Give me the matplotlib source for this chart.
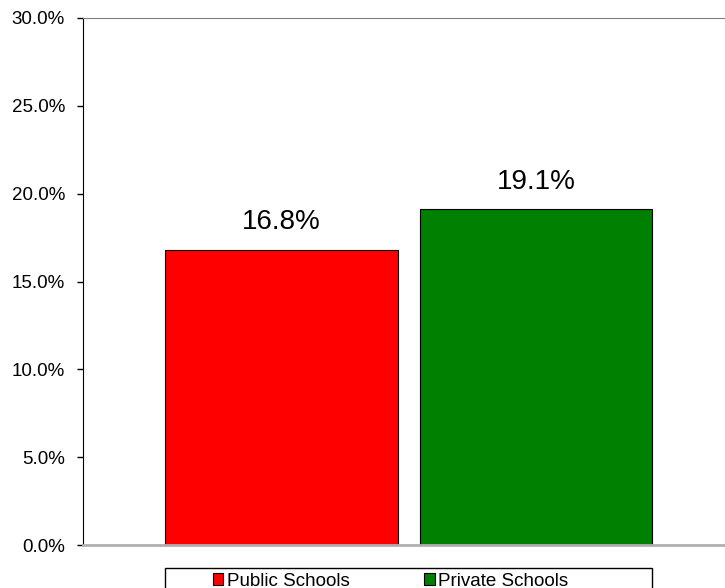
import matplotlib.pyplot as plt
import numpy as np
from matplotlib.ticker import FuncFormatter
from matplotlib.patches import Rectangle

plt.rcParams['font.family'] = ['Liberation Sans', 'DejaVu Sans']

series = ["Public Schools", "Private Schools"]
values = [16.8, 19.1]
colors = ["#ff0000", "#008000"]

fig = plt.figure(figsize=(7.25, 5.88), dpi=100)
ax = fig.add_axes([83/725, 1-545/588, 642/725, (545-18)/588])

x = np.arange(len(series))
bars = ax.bar(x, values, width=0.915, color=colors, edgecolor="black", linewidth=0.8)

for b, v in zip(bars, values):
    ax.annotate(f"{v:.1f}%", (b.get_x() + b.get_width()/2, v), xytext=(0, 10.5),
                textcoords="offset points", ha="center", va="bottom", fontsize=20)

ax.set_ylim(0, 30)
ax.set_xlim(-0.780, 1.743)
ax.set_yticks(np.arange(0, 31, 5))
ax.yaxis.set_major_formatter(FuncFormatter(lambda v, p: f"{v:.1f}%"))
ax.tick_params(axis="y", labelsize=13.5, length=4.3, width=1, direction="out", pad=8.6)
ax.tick_params(axis="x", bottom=False, labelbottom=False)

ax.spines["right"].set_visible(False)
ax.spines["top"].set_color("#808080")
ax.spines["bottom"].set_color("#b0b0b0")
ax.spines["bottom"].set_linewidth(2)
ax.spines["left"].set_color("black")

# legend box drawn on its own, entries placed inside it
fig.patches.append(Rectangle((165/725, -0.1), 487/725, 0.1 + (1 - 568/588),
                             transform=fig.transFigure, fill=False,
                             edgecolor="black", linewidth=1))
leg = fig.legend(bars, series, loc="center left", ncol=2,
                 bbox_to_anchor=(213/725, 1 - 581/588),
                 borderaxespad=0, borderpad=0, fontsize=13.5, frameon=False,
                 handlelength=0.55, handleheight=0.55, handletextpad=0.18,
                 columnspacing=4.0)

fig.savefig("out.png", dpi=100)
